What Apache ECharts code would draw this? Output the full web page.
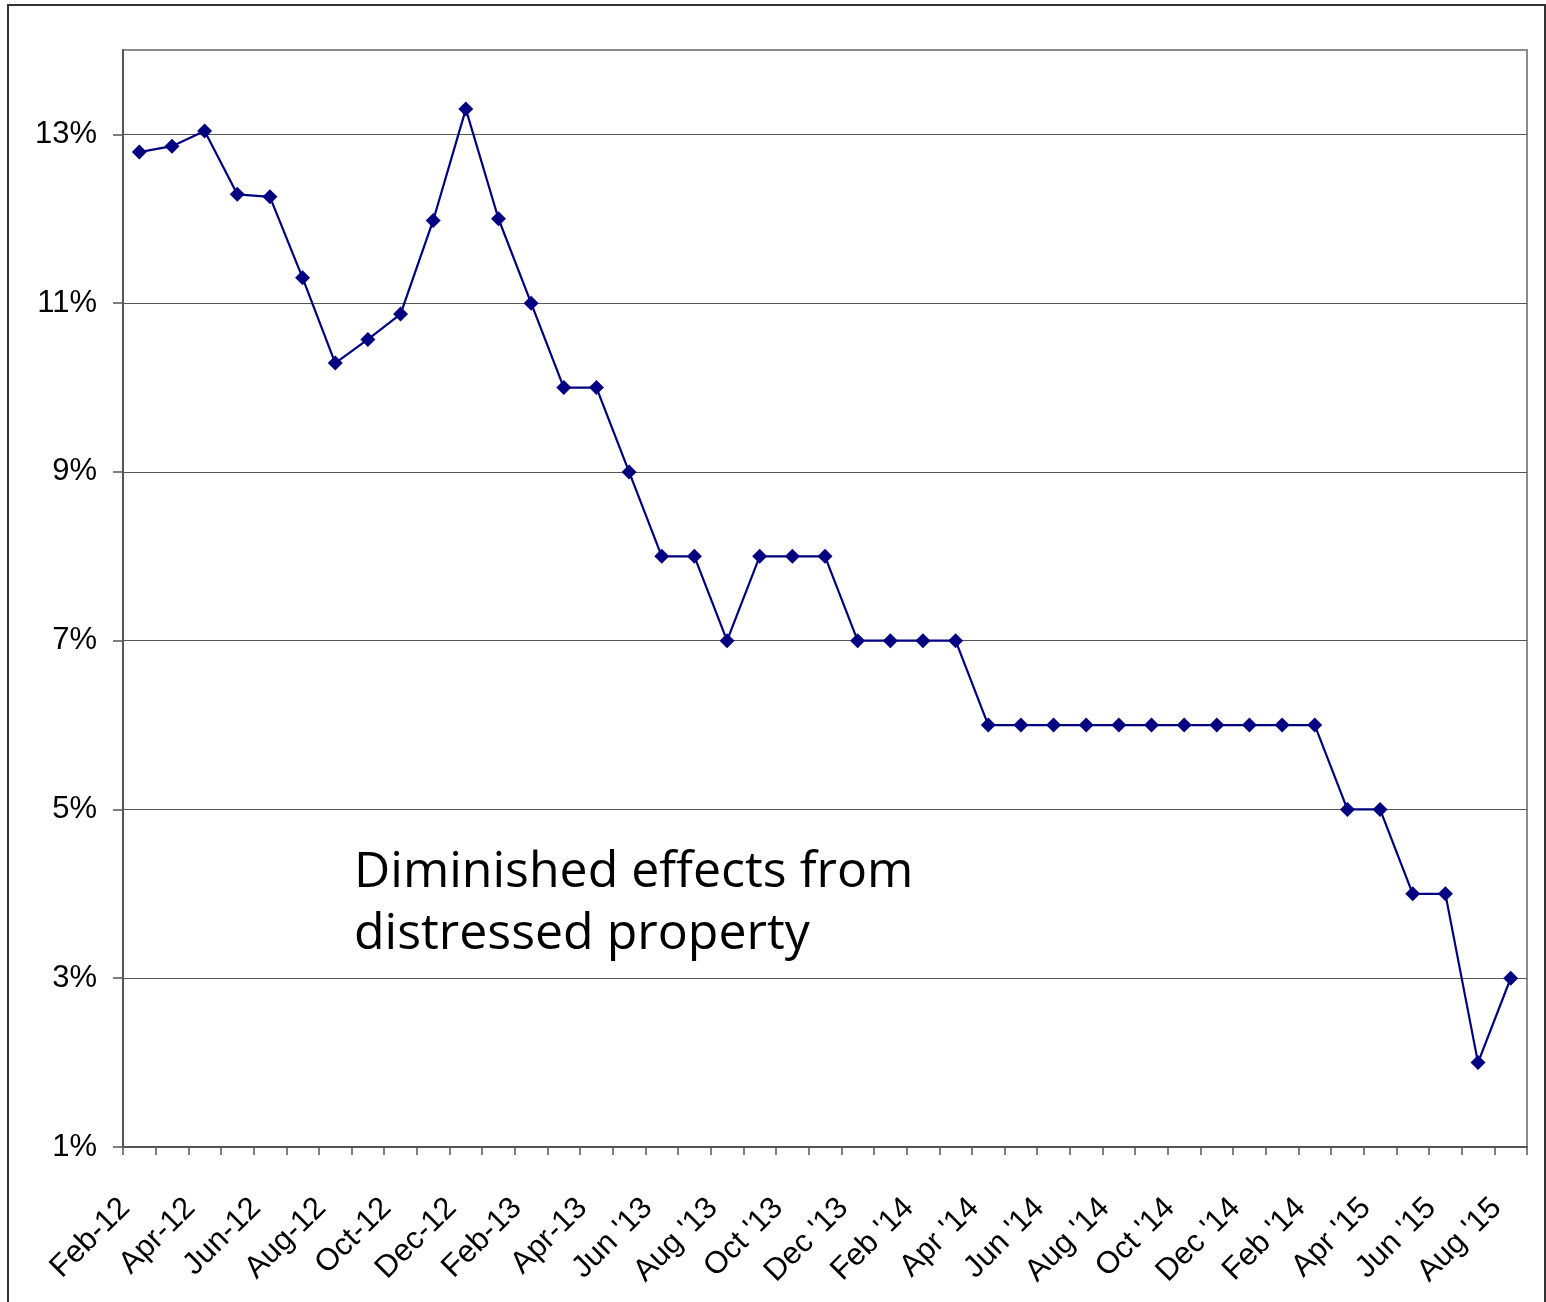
<!DOCTYPE html>
<html>
<head>
<meta charset="utf-8">
<script src="https://cdn.jsdelivr.net/npm/echarts@6/dist/echarts.min.js"></script>
<style>
html,body{margin:0;padding:0;background:#fff;}
#chart{width:1546px;height:1302px;}
</style>
</head>
<body>
<div id="chart"></div>
<script>
// Categories: monthly, Feb-12 .. Aug '15 (labels shown every other month)
const months = [
  "Feb-12","Mar-12","Apr-12","May-12","Jun-12","Jul-12","Aug-12","Sep-12","Oct-12","Nov-12","Dec-12",
  "Jan-13","Feb-13","Mar-13","Apr-13","May-13","Jun '13","Jul '13","Aug '13","Sep '13","Oct '13","Nov '13","Dec '13",
  "Jan '14","Feb '14","Mar '14","Apr '14","May '14","Jun '14","Jul '14","Aug '14","Sep '14","Oct '14","Nov '14","Dec '14",
  "Jan '15","Feb '14","Mar '15","Apr '15","May '15","Jun '15","Jul '15","Aug '15"
];
const values = [
  12.79, 12.86, 13.04, 12.29, 12.26, 11.30, 10.29, 10.57, 10.87, 11.98, 13.30,
  12.00, 11.0, 10.0, 10.0, 9.0, 8.0, 8.0, 7.0, 8.0, 8.0, 8.0, 7.0,
  7.0, 7.0, 7.0, 6.0, 6.0, 6.0, 6.0, 6.0, 6.0, 6.0, 6.0, 6.0,
  6.0, 6.0, 5.0, 5.0, 4.0, 4.0, 2.0, 3.0
];
const yMin = 1, yMax = 14, yStep = 2;
const annotation = ["Diminished effects from", "distressed property"];

const chart = echarts.init(document.getElementById('chart'), null, {renderer: 'canvas'});
const gridColors = ['#555','#555','#555','#555','#555','#555','#555','#8c8c8c'];
chart.setOption({
  animation: false,
  backgroundColor: '#fff',
  grid: {left: 123, right: 19, top: 50, bottom: 155, show: true, borderColor: '#8c8c8c', borderWidth: 2, backgroundColor: 'transparent'},
  xAxis: {
    type: 'category',
    data: months,
    boundaryGap: true,
    axisLine: {show: true, lineStyle: {color: '#555', width: 2}},
    axisTick: {show: true, interval: 0, length: 8, lineStyle: {color: '#555', width: 1.5}},
    axisLabel: {
      interval: 1, rotate: 45, margin: 42, padding: [0, 20, 0, 0],
      fontFamily: 'Liberation Sans, Arial, sans-serif', fontSize: 31, color: '#000'
    },
    splitLine: {show: false}
  },
  yAxis: {
    type: 'value',
    min: yMin, max: yMax, interval: yStep,
    axisLine: {show: true, lineStyle: {color: '#555', width: 2}},
    axisTick: {show: true, length: 10, lineStyle: {color: '#555', width: 1.5}},
    axisLabel: {
      showMaxLabel: false, margin: 26,
      formatter: v => v + '%',
      fontFamily: 'Liberation Sans, Arial, sans-serif', fontSize: 31, color: '#000'
    },
    splitLine: {show: true, lineStyle: {color: gridColors, width: 1.2}}
  },
  series: [{
    type: 'line',
    data: values,
    symbol: 'diamond',
    symbolSize: 15,
    showAllSymbol: true,
    lineStyle: {color: '#000080', width: 2.2},
    itemStyle: {color: '#000080'},
    z: 5
  }],
  graphic: [
    {type: 'rect', shape: {x: 8, y: 5, width: 1537, height: 1310}, style: {fill: 'none', stroke: '#333', lineWidth: 2}, silent: true, z: 0},
    {type: 'text', left: 354, top: 842, style: {
      text: annotation.join('\n'), font: '50px "Open Sans", sans-serif', fill: '#000', lineHeight: 62
    }, z: 10}
  ]
});
</script>
</body>
</html>
